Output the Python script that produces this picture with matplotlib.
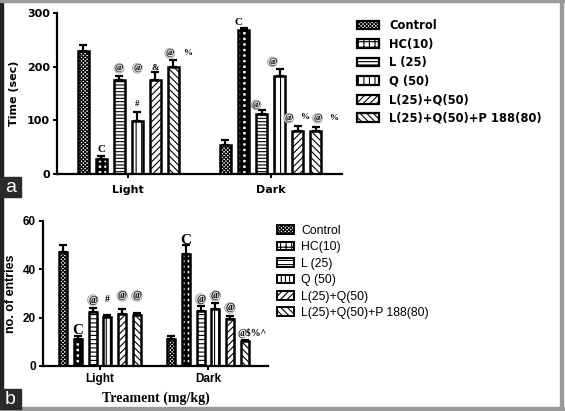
import matplotlib
matplotlib.use('Agg')
import matplotlib.pyplot as plt
from matplotlib.patches import Patch, Rectangle

# groups and treatments
groups = ['Light', 'Dark']
treatments = ['Control', 'HC(10)', 'L (25)', 'Q (50)', 'L(25)+Q(50)',
              'L(25)+Q(50)+P 188(80)']

# panel a: time spent (sec)
time_light = [230, 28, 175, 98, 176, 200]
time_light_err = [10, 5, 8, 18, 15, 12]
time_dark = [55, 268, 112, 183, 80, 80]
time_dark_err = [8, 5, 8, 12, 10, 8]

# panel b: number of entries
entries_light = [47, 11, 22.5, 20.3, 21.5, 21]
entries_light_err = [3, 1.5, 1.5, 1, 2, 1]
entries_dark = [11.3, 46.5, 22.8, 23.5, 19.3, 10.3]
entries_dark_err = [1, 3.5, 2, 2.5, 1.5, 0.5]

# significance marks: (group, bar slot, text, value height)
time_marks = [(0, 1, 'C', 45), (0, 2, '@', 197), (0, 3, '@', 197),
              (0, 3, '#', 130), (0, 4, '&', 197), (0, 4.8, '@', 225),
              (0, 5.8, '%', 225),
              (1, 0.7, 'C', 283), (1, 1.7, '@', 129), (1, 2.6, '@', 209),
              (1, 3.5, '@', 104), (1, 4.4, '%', 106), (1, 5.1, '@', 104),
              (1, 6.0, '%', 104)]
entries_marks = [(0, 1, 'C', 14.5), (0, 2, '@', 27.3), (0, 3, '#', 27.5),
                 (0, 4, '@', 29), (0, 5, '@', 29),
                 (1, 1, 'C', 52), (1, 2, '@', 27.7), (1, 3, '@', 29),
                 (1, 4, '@', 24)]
entries_tail = (1, 4.5, '@$%^', 13.5)

hatch_top = ['xxxxxxxxx', '+++', '-----', '|||', '/////', '\\\\\\\\\\']
hatch_bot = ['xxxxxxxxx', '+++', '----', '||||', '/////', '\\\\\\\\\\']

plt.rcParams['hatch.linewidth'] = 0.8


def thick_hatch(patch, lw=2.2):
    """ """
    if hasattr(patch, 'set_hatch_linewidth'):
        patch.set_hatch_linewidth(lw)


def draw_bars(ax, light, light_err, dark, dark_err, step, width, hatches):
    """ """
    for k in range(len(treatments)):
        xs = [g + (k - 2.5) * step for g in range(len(groups))]
        vals = [light[k], dark[k]]
        errs = [light_err[k], dark_err[k]]
        ax.errorbar(xs, vals, yerr=[[0, 0], errs], fmt='none', ecolor='black',
                    elinewidth=1.6, capsize=2.6, capthick=1.6, zorder=1)
        bars = ax.bar(xs, vals, width, color='white', edgecolor='black',
                      hatch=hatches[k], linewidth=1.8, zorder=2)
        if k == 1:
            for b in bars:
                thick_hatch(b)


def mark(ax, x, txt, y, size, circle=True):
    """ """
    bbox = None
    if txt == '@' and circle:
        bbox = dict(boxstyle='circle,pad=0.08', fc='#d8d8d8', ec='#9a9a9a', lw=0.5)
    ax.text(x, y, txt, ha='center', va='center', fontsize=size,
            family='Liberation Serif', fontweight='bold', bbox=bbox, zorder=4)


def main():

    fig = plt.figure(figsize=(5.65, 4.11), dpi=100)

    # ---- panel a ----
    ax1 = fig.add_axes([0.1009, 0.5766, 0.504, 0.3917])
    step1 = 18 / 142
    draw_bars(ax1, time_light, time_light_err, time_dark, time_dark_err,
              step1, 11 / 142, hatch_top)
    ax1.set_xlim(-0.5, 1.5)
    ax1.set_ylim(0, 300)
    ax1.set_yticks([0, 100, 200, 300])
    ax1.set_xticks([0, 1])
    ax1.set_xticklabels(groups)
    for lab in ax1.get_xticklabels() + ax1.get_yticklabels():
        lab.set_family('DejaVu Sans')
        lab.set_fontweight('bold')
        lab.set_fontsize(8)
    ax1.set_ylabel('Time (sec)', family='DejaVu Sans', fontweight='bold',
                   fontsize=8, labelpad=6)
    for g, k, txt, y in time_marks:
        sz = 8 if txt == 'C' else 6.5
        mark(ax1, g + (k - 2.5) * step1, txt, y, sz)

    # ---- panel b ----
    ax2 = fig.add_axes([0.0761, 0.1095, 0.398, 0.3528])
    step2 = 14.7 / 108
    draw_bars(ax2, entries_light, entries_light_err, entries_dark,
              entries_dark_err, step2, 8 / 108, hatch_bot)
    ax2.set_xlim(-0.53, 1.556)
    ax2.set_ylim(0, 60)
    ax2.set_yticks([0, 20, 40, 60])
    ax2.set_xticks([0, 1])
    ax2.set_xticklabels(groups)
    for lab in ax2.get_xticklabels() + ax2.get_yticklabels():
        lab.set_family('Liberation Sans')
        lab.set_fontweight('bold')
        lab.set_fontsize(8.5)
    ax2.set_ylabel('no. of entries', family='Liberation Sans',
                   fontweight='bold', fontsize=9, labelpad=4)
    ax2.set_xlabel('Treament (mg/kg)', family='Liberation Serif',
                   fontweight='bold', fontsize=10, labelpad=5)
    for g, k, txt, y in entries_marks:
        sz = 11 if txt == 'C' else 7
        mark(ax2, g + (k - 2.5) * step2, txt, y, sz, circle=(txt != '#'))
    g, k, txt, y = entries_tail
    ax2.text(g + (k - 2.5) * step2, y, txt, ha='left', va='center',
             fontsize=7, family='Liberation Serif', fontweight='bold')

    for ax in (ax1, ax2):
        ax.spines['top'].set_visible(False)
        ax.spines['right'].set_visible(False)
        ax.spines['left'].set_linewidth(1.6)
        ax.spines['bottom'].set_linewidth(1.6)
        ax.tick_params(axis='both', width=1.4, length=3, pad=2)
    ax1.tick_params(axis='x', pad=5)

    # legends
    handles_top = [Patch(facecolor='white', edgecolor='black', hatch=h,
                         linewidth=1.6) for h in hatch_top]
    thick_hatch(handles_top[1])
    fig.legend(handles_top, treatments, loc='upper left',
               bbox_to_anchor=(357 / 565, 1 - 19 / 411), frameon=False,
               prop={'family': 'DejaVu Sans', 'weight': 'bold', 'size': 8.3},
               handlelength=1.9, handleheight=0.8, handletextpad=0.9,
               labelspacing=0.48, borderpad=0, borderaxespad=0)
    handles_bot = [Patch(facecolor='white', edgecolor='black', hatch=h,
                         linewidth=1.4) for h in hatch_bot]
    thick_hatch(handles_bot[1])
    fig.legend(handles_bot, treatments, loc='upper left',
               bbox_to_anchor=(277 / 565, 1 - 225 / 411), frameon=False,
               prop={'family': 'Liberation Sans', 'size': 8.8},
               handlelength=1.4, handleheight=0.7, handletextpad=0.6,
               labelspacing=0.36, borderpad=0, borderaxespad=0)

    # frame and panel labels
    W, H = 565, 411
    fig.add_artist(Rectangle((0, 0), 3 / W, 1, transform=fig.transFigure,
                             color='#222222', zorder=10))
    fig.add_artist(Rectangle((0, 1 - 2 / H), 1, 2 / H, transform=fig.transFigure,
                             color='#9a9a9a', zorder=10))
    fig.add_artist(Rectangle((560 / W, 0), 3 / W, 1, transform=fig.transFigure,
                             color='#9a9a9a', zorder=10))
    fig.add_artist(Rectangle((0, 0), 1, 4 / H, transform=fig.transFigure,
                             color='#9a9a9a', zorder=10))
    for lbl, top in (('a', 177), ('b', 389)):
        fig.add_artist(Rectangle((0, 1 - (top + 20) / H), 21 / W, 20 / H,
                                 transform=fig.transFigure, color='#2b2b2b',
                                 zorder=11))
        fig.text(10.5 / W, 1 - (top + 10) / H, lbl, color='white', fontsize=14,
                 family='Liberation Sans', ha='center', va='center', zorder=12)

    fig.savefig('out.png', dpi=100)
    return 0


if __name__ == "__main__":
    main()
